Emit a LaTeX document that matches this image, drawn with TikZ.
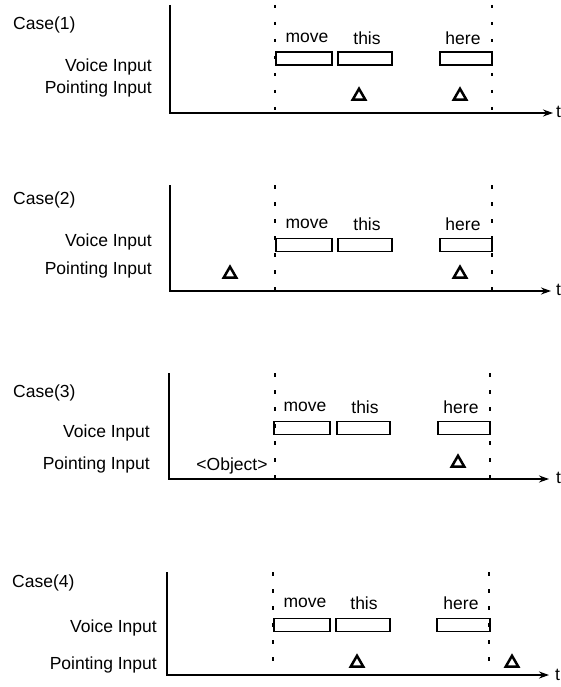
\documentclass[tikz,border=0pt]{standalone}
\usepackage{fontspec}
\setmainfont{Liberation Sans}
\usetikzlibrary{arrows.meta,shapes.geometric}
\begin{document}
\begin{tikzpicture}[x=1pt,y=-1pt,
  lbl/.style={font=\fontsize{17.5}{20}\selectfont, inner sep=0pt},
  axisline/.style={line width=1.6pt, -{Stealth[length=10pt,width=7pt]}},
  dotline/.style={line width=2.2pt, dash pattern=on 3.5pt off 13.5pt},
  wbox/.style={draw, line width=1.8pt, minimum height=13pt, inner sep=0pt},
  tri/.style={draw, line width=2.5pt, regular polygon, regular polygon sides=3, minimum size=14.5pt, inner sep=0pt}]
\useasboundingbox (0,0) rectangle (560,687);

% ---------------- Case 1 ----------------
\node[lbl, anchor=west] (c1) at (13,25) {Case(1)};
\node[lbl, anchor=east] (v1) at (152,67) {Voice Input};
\node[lbl, anchor=east] (p1) at (152,89) {Pointing Input};
\coordinate (top1) at (170,5); \coordinate (o1) at (170,113); \coordinate (e1) at (553,113);
\draw[axisline] (top1) -- (o1) -- (e1);
\node[lbl, anchor=west] (t1) at (556,112) {t};
\coordinate (d1a) at (275,5); \coordinate (d1b) at (275,113);
\coordinate (d1c) at (492,5); \coordinate (d1d) at (492,113);
\draw[dotline] (d1a) -- (d1b);
\draw[dotline] (d1c) -- (d1d);
\node[wbox, minimum width=56pt] (bm1) at (304,58.5) {};
\node[wbox, minimum width=54pt] (bt1) at (365,58.5) {};
\node[wbox, minimum width=52pt] (bh1) at (466,58.5) {};
\node[lbl] (wm1) at (307,38) {move};
\node[lbl] (wt1) at (367,38) {this};
\node[lbl] (wh1) at (463,38) {here};
\node[tri] (ta1) at (359,96) {};
\node[tri] (tb1) at (460,96) {};

% ---------------- Case 2 ----------------
\node[lbl, anchor=west] (c2) at (13,200) {Case(2)};
\node[lbl, anchor=east] (v2) at (152,242) {Voice Input};
\node[lbl, anchor=east] (p2) at (152,270) {Pointing Input};
\coordinate (top2) at (170,185); \coordinate (o2) at (170,291); \coordinate (e2) at (551,291);
\draw[axisline] (top2) -- (o2) -- (e2);
\node[lbl, anchor=west] (t2) at (556,290) {t};
\coordinate (d2a) at (275,185); \coordinate (d2b) at (275,291);
\coordinate (d2c) at (492,185); \coordinate (d2d) at (492,291);
\draw[dotline] (d2a) -- (d2b);
\draw[dotline] (d2c) -- (d2d);
\node[wbox, minimum width=56pt] (bm2) at (304,245) {};
\node[wbox, minimum width=54pt] (bt2) at (365,245) {};
\node[wbox, minimum width=52pt] (bh2) at (466,245) {};
\node[lbl] (wm2) at (307,224) {move};
\node[lbl] (wt2) at (367,224) {this};
\node[lbl] (wh2) at (463,224) {here};
\node[tri] (ta2) at (230,274) {};
\node[tri] (tb2) at (460,274) {};

% ---------------- Case 3 ----------------
\node[lbl, anchor=west] (c3) at (13,393) {Case(3)};
\node[lbl, anchor=east] (v3) at (150,433) {Voice Input};
\node[lbl, anchor=east] (p3) at (150,465) {Pointing Input};
\coordinate (top3) at (169,373); \coordinate (o3) at (169,479); \coordinate (e3) at (549,479);
\draw[axisline] (top3) -- (o3) -- (e3);
\node[lbl, anchor=west] (t3) at (556,478) {t};
\coordinate (d3a) at (275,373); \coordinate (d3b) at (275,479);
\coordinate (d3c) at (490,373); \coordinate (d3d) at (490,479);
\draw[dotline] (d3a) -- (d3b);
\draw[dotline] (d3c) -- (d3d);
\node[wbox, minimum width=56pt] (bm3) at (302,428) {};
\node[wbox, minimum width=53pt] (bt3) at (363.5,428) {};
\node[wbox, minimum width=52pt] (bh3) at (464,428) {};
\node[lbl] (wm3) at (305,407) {move};
\node[lbl] (wt3) at (365,407) {this};
\node[lbl] (wh3) at (461,407) {here};
\node[lbl] (obj3) at (232,466) {<Object>};
\node[tri] (tb3) at (458,463) {};

% ---------------- Case 4 ----------------
\node[lbl, anchor=west] (c4) at (12,583) {Case(4)};
\node[lbl, anchor=east] (v4) at (157,628) {Voice Input};
\node[lbl, anchor=east] (p4) at (157,665) {Pointing Input};
\coordinate (top4) at (167,572); \coordinate (o4) at (167,675); \coordinate (e4) at (549,675);
\draw[axisline] (top4) -- (o4) -- (e4);
\node[lbl, anchor=west] (t4) at (555,675) {t};
\coordinate (d4a) at (273,572); \coordinate (d4b) at (273,675);
\coordinate (d4c) at (489,572); \coordinate (d4d) at (489,675);
\draw[dotline] (d4a) -- (d4b);
\draw[dotline] (d4c) -- (d4d);
\node[wbox, minimum width=56pt] (bm4) at (302,625) {};
\node[wbox, minimum width=54pt] (bt4) at (363,625) {};
\node[wbox, minimum width=53pt] (bh4) at (463.5,625) {};
\node[lbl] (wm4) at (305,603) {move};
\node[lbl] (wt4) at (364,603) {this};
\node[lbl] (wh4) at (461,603) {here};
\node[tri] (ta4) at (357,663) {};
\node[tri] (tb4) at (512,663) {};
\end{tikzpicture}
\end{document}
